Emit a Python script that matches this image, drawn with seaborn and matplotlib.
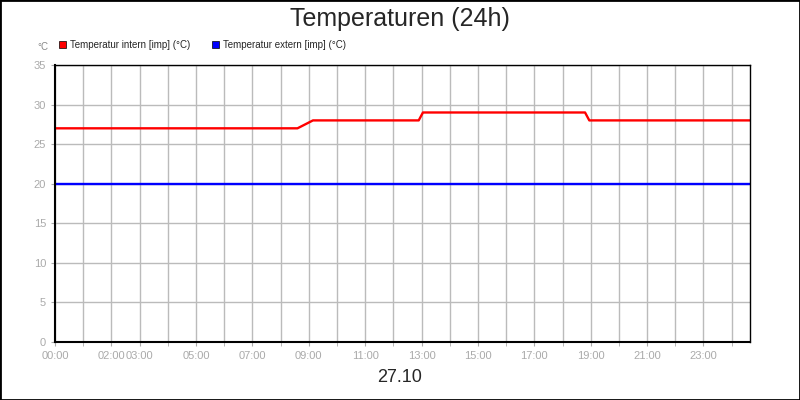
import matplotlib
matplotlib.use("Agg")
import matplotlib.pyplot as plt
import seaborn as sns
import pandas as pd

hours_int = [0, 8.6, 9.15, 12.9, 13.05, 18.8, 18.95, 24.65]
temp_int = [27, 27, 28, 28, 29, 29, 28, 28]
hours_ext = [0, 24.65]
temp_ext = [20, 20]
tick_hours = [0, 2, 3, 5, 7, 9, 11, 13, 15, 17, 19, 21, 23]
tick_labels = ["00:00", "02:00", "03:00", "05:00", "07:00", "09:00", "11:00",
               "13:00", "15:00", "17:00", "19:00", "21:00", "23:00"]

sns.set_style("white")
plt.rcParams['font.family'] = ['Liberation Sans', 'DejaVu Sans']
fig = plt.figure(figsize=(8, 4), dpi=100)
fig.patches.append(plt.Rectangle((0, 0), 1, 1, transform=fig.transFigure, fill=False,
                                 edgecolor='black', linewidth=2))
ax = fig.add_axes([55/800, 1-342/400, 695/800, 277/400])
df_i = pd.DataFrame({"h": hours_int, "t": temp_int})
df_e = pd.DataFrame({"h": hours_ext, "t": temp_ext})
sns.lineplot(data=df_i, x="h", y="t", color="#ff0000", lw=1.7, ax=ax)
sns.lineplot(data=df_e, x="h", y="t", color="#0000ff", lw=1.7, ax=ax)
ax.set_xlim(0, 24.65)
ax.set_ylim(0, 35)
ax.set_yticks(range(0, 36, 5))
ax.set_xticks(range(1, 25), minor=True)
ax.set_xticks(tick_hours)
ax.set_xticklabels(tick_labels)
ax.grid(True, which='both', color='#bbbbbb', lw=1)
ax.set_axisbelow(True)
ax.tick_params(axis='both', which='both', colors='#aaaaaa', labelsize=8, length=3, direction='out',
               bottom=True, left=True)
ax.tick_params(axis='x', which='minor', length=3, bottom=True)
for s in ax.spines.values():
    s.set_color('black'); s.set_linewidth(1)
ax.spines['left'].set_linewidth(1.5); ax.spines['bottom'].set_linewidth(1.5)
ax.set_xlabel(""); ax.set_ylabel("")
fig.text(0.5, 1-19/400, "Temperaturen (24h)", ha='center', va='center', fontsize=18)
fig.text(37/800, 1-47/400, "°C", fontsize=7, color='#888888', va='center')
fig.text(0.5, 1-378/400, "27.10", ha='center', va='center', fontsize=13)
for x0, col, lab in [(59, '#ff0000', 'Temperatur intern [imp] (°C)'),
                     (212, '#0000ff', 'Temperatur extern [imp] (°C)')]:
    fig.patches.append(plt.Rectangle((x0/800, 1-48/400), 7/800, 7/400, transform=fig.transFigure,
                                     facecolor=col, edgecolor='black', lw=0.5))
    fig.text((x0+11)/800, 1-44.5/400, lab, fontsize=7, va='center')
fig.savefig("out.png", dpi=100)
